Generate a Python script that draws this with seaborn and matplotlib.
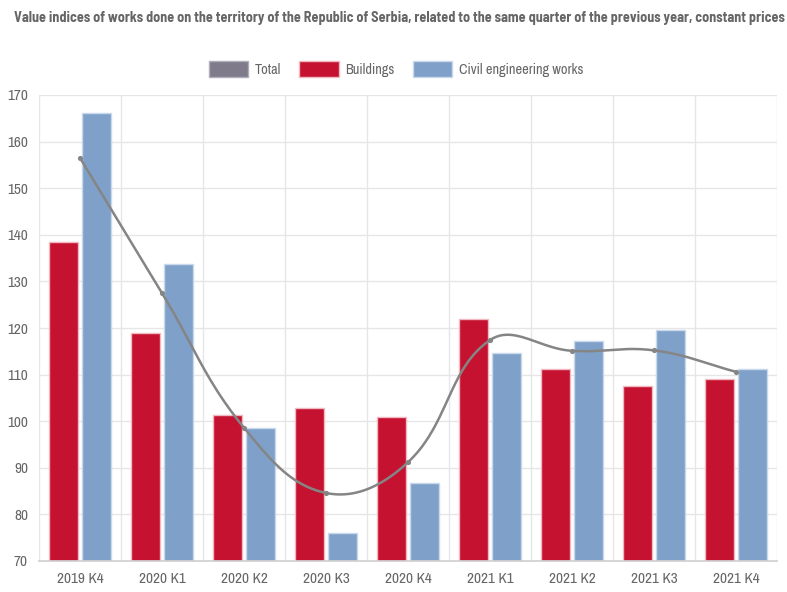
import numpy as np
import pandas as pd
import matplotlib
matplotlib.use("Agg")
import matplotlib.pyplot as plt
from matplotlib.patches import Patch
import seaborn as sns

quarters = ["2019 K4", "2020 K1", "2020 K2", "2020 K3", "2020 K4",
            "2021 K1", "2021 K2", "2021 K3", "2021 K4"]
buildings = [138.5, 118.9, 101.3, 102.8, 100.9, 121.9, 111.2, 107.6, 109.1]
civil = [166.1, 133.7, 98.5, 76.0, 86.7, 114.6, 117.3, 119.6, 111.3]
total = [156.5, 127.5, 98.6, 84.6, 91.2, 117.4, 115.1, 115.2, 110.6]

series_names = ["Buildings", "Civil engineering works"]
colors = {"Buildings": "#c41230", "Civil engineering works": "#7fa1c9"}
edges = {"Buildings": "#f2b8c0", "Civil engineering works": "#c9d8ea"}
line_color = "#858585"
text_color = "#666666"
grid_color = "#e6e6e6"

sns.set_theme(style="white")
plt.rcParams["font.family"] = ["Archivo Narrow", "DejaVu Sans"]

df = pd.DataFrame({
    "quarter": quarters * 2,
    "series": ["Buildings"] * len(quarters) + ["Civil engineering works"] * len(quarters),
    "value": buildings + civil,
})

W, H = 787, 592
fig = plt.figure(figsize=(W / 100, H / 100), dpi=100)
ax = fig.add_axes([39 / W, 1 - 561 / H, (777 - 39) / W, (561 - 95) / H])

ymin, ymax = 70, 170
sns.barplot(data=df, x="quarter", y="value", hue="series", order=quarters,
            hue_order=series_names, palette=colors, width=0.8, gap=0.1,
            saturation=1, ax=ax, legend=False)

# bars start at the axis floor
for cont, name in zip(ax.containers, series_names):
    for bar in cont:
        h = bar.get_height()
        bar.set_y(ymin)
        bar.set_height(h - ymin)
        bar.set_edgecolor(edges[name])
        bar.set_linewidth(1)

ax.set_xlim(-0.5, len(quarters) - 0.5)
ax.set_ylim(ymin, ymax)

# smooth curve through the totals (cardinal-style spline, tension 0.4)
px_x = (777 - 39) / len(quarters)
px_y = (561 - 95) / (ymax - ymin)
xs = np.arange(len(total), dtype=float)
ys = np.array(total, dtype=float)
P = np.column_stack([xs * px_x, ys * px_y])
t = 0.4
n = len(P)
cp_prev = P.copy()
cp_next = P.copy()
for i in range(n):
    prev = P[i - 1] if i > 0 else P[i]
    nxt = P[i + 1] if i < n - 1 else P[i]
    d01 = np.linalg.norm(P[i] - prev)
    d12 = np.linalg.norm(nxt - P[i])
    s = d01 + d12
    s01 = d01 / s if s else 0
    s12 = d12 / s if s else 0
    cp_prev[i] = P[i] - t * s01 * (nxt - prev)
    cp_next[i] = P[i] + t * s12 * (nxt - prev)
curve = []
u = np.linspace(0, 1, 40)[:, None]
for i in range(n - 1):
    p0, p1, p2, p3 = P[i], cp_next[i], cp_prev[i + 1], P[i + 1]
    seg = ((1 - u) ** 3) * p0 + 3 * ((1 - u) ** 2) * u * p1 + 3 * (1 - u) * u ** 2 * p2 + u ** 3 * p3
    curve.append(seg)
curve = np.vstack(curve)
ax.plot(curve[:, 0] / px_x, curve[:, 1] / px_y, color=line_color, lw=1.8, zorder=5)
sns.scatterplot(x=xs, y=ys, color=line_color, s=14, ax=ax, zorder=6, edgecolor=line_color, linewidth=0)

# grid
ax.set_yticks(np.arange(ymin, ymax + 1, 10))
ax.set_xticks(np.arange(len(quarters)))
ax.set_xticklabels(quarters)
ax.set_xticks(np.arange(-0.5, len(quarters), 1), minor=True)
ax.grid(False)
for yv in np.arange(ymin + 10, ymax + 1, 10):
    ax.axhline(yv, color=grid_color, lw=1, zorder=0)
for xv in np.arange(-0.5, len(quarters), 1):
    ax.axvline(xv, color=grid_color, lw=1, zorder=0)
for side in ["top", "right", "left"]:
    ax.spines[side].set_visible(False)
ax.spines["bottom"].set_color("#d0d0d0")
ax.tick_params(axis="x", which="major", length=0, labelsize=11, labelcolor=text_color, pad=8)
ax.tick_params(axis="x", which="minor", length=12, color=grid_color, width=1)
ax.tick_params(axis="y", length=0, labelsize=11, labelcolor=text_color, pad=8)
ax.set_xlabel("")
ax.set_ylabel("")

fig.text(14 / W, 1 - 18 / H,
         "Value indices of works done on the territory of the Republic of Serbia, related to the same quarter of the previous year, constant prices",
         ha="left", va="center", fontsize=10.2, fontweight="bold", color=text_color,
         family=["Barlow Semi Condensed", "DejaVu Sans"])

handles = [Patch(facecolor="#7f7b8a", edgecolor="#b0aebb", label="Total"),
           Patch(facecolor=colors["Buildings"], edgecolor=edges["Buildings"], label="Buildings"),
           Patch(facecolor=colors["Civil engineering works"], edgecolor=edges["Civil engineering works"],
                 label="Civil engineering works")]
fig.legend(handles=handles, loc="center", bbox_to_anchor=(396 / W, 1 - 69 / H), ncol=3,
           frameon=False, fontsize=10.3, handlelength=2.75, handleheight=1.45,
           handletextpad=0.45, columnspacing=1.3, labelcolor=text_color)

fig.savefig("out.png", dpi=100)
